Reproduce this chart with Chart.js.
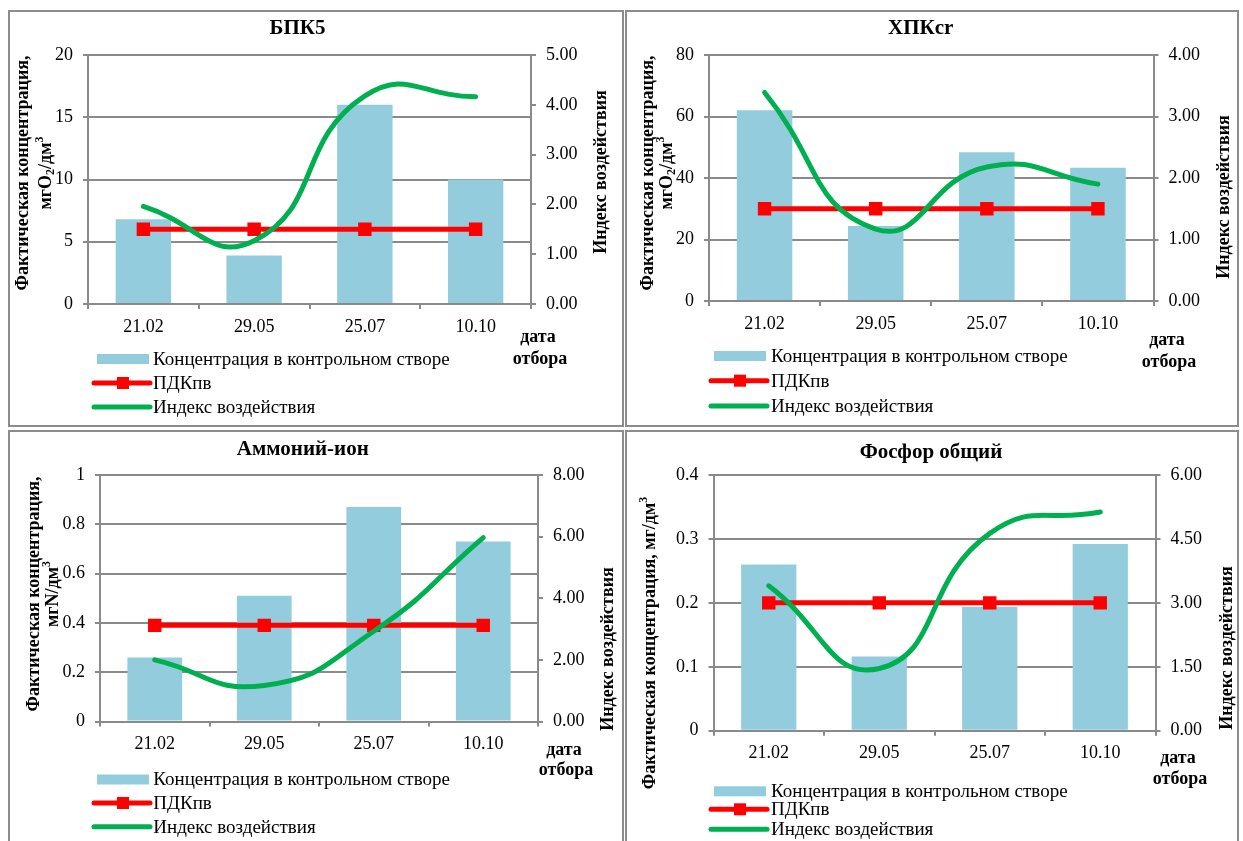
<!DOCTYPE html>
<html>
<head>
<meta charset="utf-8">
<script src="https://cdn.jsdelivr.net/npm/chart.js@4.4.1/dist/chart.umd.min.js"></script>
<style>
html,body{margin:0;padding:0;background:#fff;overflow:hidden}
.panel{position:absolute;border:2px solid #8c8c8c;box-sizing:border-box;background:#fff}
.panel canvas{position:absolute;left:0;top:0}
</style>
</head>
<body>
<div class="panel" style="left:8px;top:10px;width:616px;height:417px"><canvas id="c1" width="612" height="413"></canvas></div>
<div class="panel" style="left:625px;top:10px;width:614px;height:417px"><canvas id="c2" width="610" height="413"></canvas></div>
<div class="panel" style="left:8px;top:430px;width:616px;height:420px"><canvas id="c3" width="612" height="416"></canvas></div>
<div class="panel" style="left:625px;top:430px;width:614px;height:420px"><canvas id="c4" width="610" height="416"></canvas></div>
<script>
const dates = ['21.02', '29.05', '25.07', '10.10'];

// БПК5
const bpkConc = [6.8, 3.9, 16, 10];
const bpkPdk = [6, 6, 6, 6];
const bpkIndex = [1.96, 1.27, 4.18, 4.16];
const bpkLeftTicks = [0, 5, 10, 15, 20];
const bpkRightTicks = [0, 1, 2, 3, 4, 5];

// ХПКcr
const hpkConc = [62, 24.4, 48.4, 43.3];
const hpkPdk = [30, 30, 30, 30];
const hpkIndex = [3.39, 1.17, 2.18, 1.9];
const hpkLeftTicks = [0, 20, 40, 60, 80];
const hpkRightTicks = [0, 1, 2, 3, 4];

// Аммоний-ион
const nh4Conc = [0.26, 0.51, 0.87, 0.73];
const nh4Pdk = [0.39, 0.39, 0.39, 0.39];
const nh4Index = [2.0, 1.17, 2.93, 5.97];
const nh4LeftTicks = [0, 0.2, 0.4, 0.6, 0.8, 1];
const nh4RightTicks = [0, 2, 4, 6, 8];

// Фосфор общий
const pConc = [0.26, 0.116, 0.194, 0.292];
const pPdk = [0.2, 0.2, 0.2, 0.2];
const pIndex = [3.4, 1.46, 4.63, 5.13];
const pLeftTicks = [0, 0.1, 0.2, 0.3, 0.4];
const pRightTicks = [0, 1.5, 3, 4.5, 6];

const SERIF = '"Liberation Serif", "Times New Roman", serif';
const GRID = '#8a8a8a';
const BAR = '#93cddd';
const RED = '#ff0000';
const GREEN = '#00b050';

function drawRich(ctx, parts, x, y, size){
  ctx.save();
  ctx.translate(x, y);
  ctx.rotate(-Math.PI / 2);
  const fonts = parts.map(p => (p.sub || p.sup) ? `bold ${Math.round(size * 0.65)}px ${SERIF}` : `bold ${size}px ${SERIF}`);
  let w = 0;
  const ws = parts.map((p, i) => { ctx.font = fonts[i]; const m = ctx.measureText(p.t).width; w += m; return m; });
  let cx = -w / 2;
  ctx.textAlign = 'left';
  ctx.textBaseline = 'middle';
  parts.forEach((p, i) => {
    ctx.font = fonts[i];
    const dy = p.sub ? size * 0.3 : p.sup ? -size * 0.35 : 0;
    ctx.fillText(p.t, cx, dy);
    cx += ws[i];
  });
  ctx.restore();
}

// заголовок, подписи осей, "дата отбора" и легенда
const decor = {
  id: 'decor',
  afterDraw(chart, args, o){
    const ctx = chart.ctx;
    const ds = chart.data.datasets;
    ctx.save();
    ctx.fillStyle = '#000';
    ctx.textAlign = 'center';
    ctx.textBaseline = 'middle';
    ctx.font = `bold 21px ${SERIF}`;
    ctx.fillText(o.title, o.titleX, o.titleY);

    o.left.forEach((line, i) => drawRich(ctx, line, o.leftX[i], o.leftY, 18));
    drawRich(ctx, [{t: 'Индекс воздействия'}], o.rightX, o.rightY, 18);

    ctx.font = `bold 18px ${SERIF}`;
    ctx.fillText('дата', o.dateX, o.dateY[0]);
    ctx.fillText('отбора', o.dateX + 2, o.dateY[1]);

    // легенда
    const lx = o.legX, ly = o.legY;
    ctx.fillStyle = ds[0].backgroundColor;
    ctx.fillRect(lx, ly[0] - 5, 52, 10);
    ctx.lineCap = 'round';
    ctx.strokeStyle = ds[1].borderColor;
    ctx.lineWidth = 5;
    ctx.beginPath(); ctx.moveTo(lx - 3, ly[1]); ctx.lineTo(lx + 53, ly[1]); ctx.stroke();
    ctx.fillStyle = ds[1].pointBackgroundColor;
    ctx.fillRect(lx + 20, ly[1] - 6, 12, 12);
    ctx.strokeStyle = ds[2].borderColor;
    ctx.beginPath(); ctx.moveTo(lx - 3, ly[2]); ctx.lineTo(lx + 53, ly[2]); ctx.stroke();

    ctx.fillStyle = '#000';
    ctx.textAlign = 'left';
    ctx.font = `19px ${SERIF}`;
    ds.forEach((d, i) => ctx.fillText(d.label, o.textX, ly[i] + 1));
    ctx.restore();
  }
};

function makeChart(id, p){
  const cv = document.getElementById(id);
  const W = cv.width, H = cv.height;
  const a = p.area;
  const tickFont = {family: SERIF, size: 18};
  return new Chart(cv, {
    type: 'bar',
    data: {
      labels: dates,
      datasets: [
        {type: 'bar', label: 'Концентрация в контрольном створе', data: p.conc, backgroundColor: BAR,
          yAxisID: 'y', barPercentage: 0.5, categoryPercentage: 1, order: 3},
        {type: 'line', label: 'ПДКпв', data: p.pdk, borderColor: RED, borderWidth: 5, yAxisID: 'y',
          pointStyle: 'rect', pointRadius: 9.5, pointBackgroundColor: RED, pointBorderColor: RED, pointBorderWidth: 0, order: 2},
        {type: 'line', label: 'Индекс воздействия', data: p.index, borderColor: GREEN, borderWidth: 5, yAxisID: 'y1',
          tension: 0.5, pointRadius: 0, borderCapStyle: 'round', order: 1}
      ]
    },
    options: {
      responsive: false,
      animation: false,
      events: [],
      layout: {padding: {top: a.top, left: 0, right: 0, bottom: 0}},
      plugins: {
        legend: {display: false},
        tooltip: {enabled: false},
        decor: p.decor
      },
      scales: {
        x: {
          afterFit: s => { s.height = H - a.bottom; },
          grid: {drawOnChartArea: false, color: GRID, lineWidth: 2, tickLength: 5},
          border: {color: GRID, width: 2},
          ticks: {font: tickFont, color: '#000', padding: 7}
        },
        y: {
          position: 'left', min: p.leftTicks[0], max: p.leftTicks[p.leftTicks.length - 1],
          afterFit: s => { s.width = a.left; },
          afterBuildTicks: s => { s.ticks = p.leftTicks.map(v => ({value: v})); },
          grid: {color: GRID, lineWidth: 2, tickLength: 5},
          border: {color: GRID, width: 2},
          ticks: {font: tickFont, color: '#000', padding: 10, callback: v => String(v)}
        },
        y1: {
          position: 'right', min: p.rightTicks[0], max: p.rightTicks[p.rightTicks.length - 1],
          afterFit: s => { s.width = W - a.right; },
          afterBuildTicks: s => { s.ticks = p.rightTicks.map(v => ({value: v})); },
          grid: {drawOnChartArea: false, color: GRID, lineWidth: 2, tickLength: 5},
          border: {color: GRID, width: 2},
          ticks: {font: tickFont, color: '#000', padding: 10, callback: v => Number(v).toFixed(2)}
        }
      }
    },
    plugins: [decor]
  });
}

const mgO2 = [{t: 'мгО'}, {t: '2', sub: true}, {t: '/дм'}, {t: '3', sup: true}];

makeChart('c1', {
  conc: bpkConc, pdk: bpkPdk, index: bpkIndex, leftTicks: bpkLeftTicks, rightTicks: bpkRightTicks,
  area: {left: 78, right: 521, top: 43, bottom: 292},
  decor: {title: 'БПК5', titleX: 287.5, titleY: 17,
    left: [[{t: 'Фактическая концентрация,'}], mgO2], leftX: [13.5, 36], leftY: 161,
    rightX: 591, rightY: 160, dateX: 528, dateY: [325, 347.5],
    legX: 87, legY: [347, 371, 395], textX: 143}
});

makeChart('c2', {
  conc: hpkConc, pdk: hpkPdk, index: hpkIndex, leftTicks: hpkLeftTicks, rightTicks: hpkRightTicks,
  area: {left: 82, right: 526.5, top: 43, bottom: 289},
  decor: {title: 'ХПКcr', titleX: 293.7, titleY: 16.5,
    left: [[{t: 'Фактическая концентрация,'}], mgO2], leftX: [21, 40], leftY: 161,
    rightX: 597, rightY: 185, dateX: 540, dateY: [328.7, 350.7],
    legX: 87, legY: [344, 368.7, 394], textX: 144}
});

makeChart('c3', {
  conc: nh4Conc, pdk: nh4Pdk, index: nh4Index, leftTicks: nh4LeftTicks, rightTicks: nh4RightTicks,
  area: {left: 90, right: 528, top: 43, bottom: 289.5},
  decor: {title: 'Аммоний-ион', titleX: 292.8, titleY: 17.3,
    left: [[{t: 'Фактическая концентрация,'}], [{t: 'мгN/дм'}, {t: '3', sup: true}]], leftX: [24, 43], leftY: 162,
    rightX: 598.7, rightY: 217, dateX: 554, dateY: [318, 338.7],
    legX: 87, legY: [347.5, 371, 394.7], textX: 143.3}
});

makeChart('c4', {
  conc: pConc, pdk: pPdk, index: pIndex, leftTicks: pLeftTicks, rightTicks: pRightTicks,
  area: {left: 86.5, right: 528.5, top: 43, bottom: 298.7},
  decor: {title: 'Фосфор общий', titleX: 304, titleY: 20.3,
    left: [[{t: 'Фактическая концентрация, мг/дм'}, {t: '3', sup: true}]], leftX: [23], leftY: 211,
    rightX: 600, rightY: 216, dateX: 551, dateY: [326.3, 347],
    legX: 87, legY: [359.3, 377.3, 397.3], textX: 144}
});
</script>
</body>
</html>
